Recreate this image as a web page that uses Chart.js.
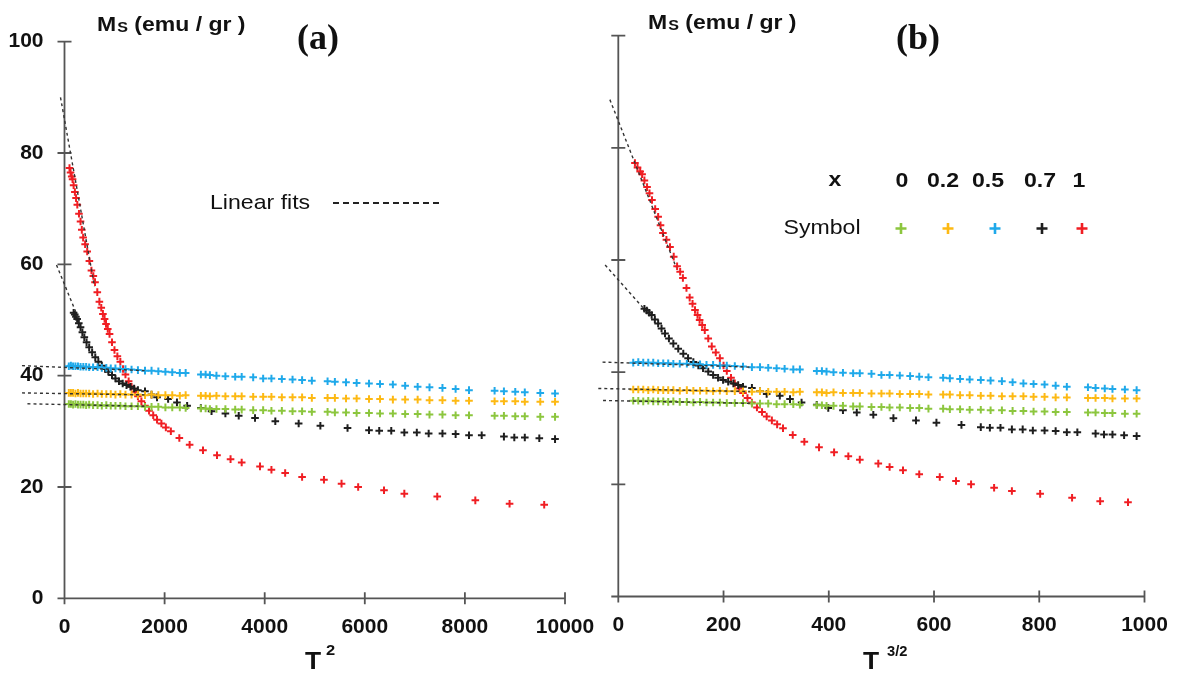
<!DOCTYPE html>
<html><head><meta charset="utf-8">
<script src="https://cdn.jsdelivr.net/npm/chart.js@4.4.0/dist/chart.umd.min.js"></script>
<style>
html,body{margin:0;padding:0;background:#fff;width:1179px;height:673px;overflow:hidden}
#ca{position:absolute;left:0;top:0}
#cb{position:absolute;left:590px;top:0}
</style></head><body>
<canvas id="ca" width="600" height="673"></canvas>
<canvas id="cb" width="589" height="673"></canvas>
<script>
// ---- data (T in K, Ms in emu/gr) ----
// common temperature grid for x = 0, 0.2, 0.5
const T_grid = [9.3, 11.3, 13.1, 14.8, 16.4, 17.9, 19.4, 20.8, 22.2, 23.9,
  25.7, 27.3, 28.9, 30.4, 31.9, 33.4, 34.9, 36.6, 38.3, 40.1,
  41.7, 43.3, 44.9, 46.4, 48.0, 49.2, 52.2, 53.1, 53.9, 55.1,
  56.7, 58.4, 59.5, 61.4, 63.0, 64.3, 65.9, 67.5, 68.9, 70.3,
  72.5, 73.5, 75.0, 76.4, 78.0, 79.4, 81.0, 82.5, 84.0, 85.4,
  86.9, 88.4, 89.9, 92.7, 93.7, 94.9, 95.9, 97.5, 99.0];
const M_x00 = [34.9, 34.9, 34.8, 34.9, 34.8, 34.8, 34.8, 34.7, 34.8, 34.7,
  34.7, 34.6, 34.7, 34.6, 34.6, 34.6, 34.5, 34.5, 34.5, 34.4,
  34.4, 34.4, 34.3, 34.3, 34.3, 34.2, 34.1, 34.1, 34.0, 34.0,
  34.0, 33.9, 33.9, 33.8, 33.8, 33.7, 33.7, 33.6, 33.6, 33.5,
  33.5, 33.4, 33.4, 33.3, 33.3, 33.2, 33.2, 33.1, 33.1, 33.0,
  33.0, 32.9, 32.9, 32.8, 32.8, 32.7, 32.7, 32.6, 32.6];
const M_x02 = [36.9, 36.9, 36.9, 36.8, 36.9, 36.8, 36.8, 36.8, 36.8, 36.7,
  36.8, 36.7, 36.7, 36.7, 36.6, 36.7, 36.6, 36.6, 36.6, 36.5,
  36.6, 36.5, 36.5, 36.5, 36.4, 36.5, 36.4, 36.4, 36.3, 36.4,
  36.3, 36.3, 36.3, 36.2, 36.2, 36.2, 36.1, 36.1, 36.1, 36.0,
  36.0, 36.0, 35.9, 35.9, 35.8, 35.8, 35.7, 35.7, 35.7, 35.6,
  35.6, 35.5, 35.5, 35.4, 35.4, 35.4, 35.3, 35.3, 35.3];
const M_x05 = [41.7, 41.8, 41.7, 41.7, 41.7, 41.6, 41.6, 41.6, 41.5, 41.5,
  41.5, 41.4, 41.4, 41.3, 41.3, 41.2, 41.2, 41.1, 41.0, 40.9,
  40.9, 40.8, 40.7, 40.6, 40.5, 40.5, 40.2, 40.2, 40.1, 40.0,
  39.9, 39.8, 39.8, 39.7, 39.5, 39.5, 39.4, 39.3, 39.2, 39.1,
  39.0, 38.9, 38.8, 38.7, 38.6, 38.5, 38.4, 38.2, 38.0, 37.9,
  37.8, 37.6, 37.4, 37.3, 37.2, 37.1, 37.0, 36.9, 36.8];
const T_x07 = [13.5, 14.3, 15.1, 15.9, 16.9, 17.9, 18.9, 19.9, 21.0, 22.2,
  23.5, 24.8, 26.0, 27.3, 28.5, 29.6, 30.8, 31.9, 33.0, 34.1,
  35.2, 36.3, 37.3, 38.3, 40.1, 41.7, 43.0, 45.5, 47.4, 49.5,
  52.2, 54.2, 56.7, 59.0, 61.7, 64.9, 68.4, 71.5, 75.2, 78.0,
  79.3, 80.8, 82.4, 83.9, 85.3, 86.9, 88.4, 89.9, 91.3, 93.7,
  94.8, 95.9, 97.4, 99.0];
const M_x07 = [51.3, 51.0, 50.6, 50.2, 49.4, 48.7, 47.8, 46.9, 46.0, 45.1,
  44.2, 43.3, 42.5, 41.8, 41.2, 40.7, 40.1, 39.5, 39.0, 38.6,
  38.3, 38.0, 37.7, 37.4, 37.2, 36.6, 36.1, 35.8, 35.2, 34.6,
  34.2, 33.6, 33.2, 32.8, 32.4, 31.8, 31.4, 31.0, 30.6, 30.2,
  30.1, 30.1, 29.8, 29.8, 29.6, 29.6, 29.5, 29.3, 29.3, 29.05,
  28.9, 28.9, 28.75, 28.6];
const T_x10 = [10, 11, 12, 12.7, 13.5, 14.4, 15.2, 16.0, 17.0, 17.9,
  18.6, 19.3, 20.3, 21.3, 22.3, 23.2, 24.0, 24.7, 25.6, 26.4,
  27.1, 27.7, 28.3, 28.8, 29.4, 30.0, 30.8, 31.6, 32.5, 33.4,
  34.2, 34.9, 35.8, 36.6, 37.5, 38.3, 39.2, 40.1, 41.1, 42.1,
  43.0, 44.0, 45.0, 46.1, 47.9, 50.0, 52.6, 55.2, 57.6, 59.5,
  62.5, 64.3, 66.4, 68.9, 72.0, 74.4, 76.6, 79.9, 82.4, 86.3,
  90.6, 94.3, 97.9];
const M_x10 = [77.3, 76.5, 75.8, 75.3, 74.2, 73.0, 71.9, 70.7, 69.1, 67.7,
  66.2, 64.8, 63.6, 62.3, 60.6, 58.9, 57.9, 56.8, 55.0, 53.3,
  52.2, 51.1, 50.2, 49.3, 48.4, 47.5, 46.0, 44.6, 43.5, 42.5,
  41.2, 40.2, 39.0, 38.0, 37.1, 36.3, 35.4, 34.6, 33.7, 32.9,
  32.1, 31.4, 30.7, 30.0, 28.8, 27.6, 26.6, 25.7, 25.0, 24.4,
  23.7, 23.1, 22.5, 21.8, 21.3, 20.6, 20.0, 19.4, 18.8, 18.3,
  17.6, 17.0, 16.8];

// linear fits: end points [x1, x2] and [M1, M2]
// panel (a): x = T^2
const fitA_x00 = [[-740, 1600], [34.95, 34.5]];
const fitA_x02 = [[-850, 1600], [36.9, 36.55]];
const fitA_x05 = [[-850, 1600], [41.8, 40.9]];
const fitA_x07 = [[-160, 300], [59.9, 49.8]];
const fitA_x10 = [[-80, 600], [90.0, 56.0]];
// panel (b): x = T^(3/2)
const fitB_x00 = [[-29, 250], [34.95, 34.45]];
const fitB_x02 = [[-38, 250], [37.1, 36.55]];
const fitB_x05 = [[-30, 250], [41.8, 40.9]];
const fitB_x07 = [[-25, 48], [59.1, 51.4]];
const fitB_x10 = [[-16, 110], [88.6, 58.7]];

const xTicksA = [0, 2000, 4000, 6000, 8000, 10000];
const xTicksB = [0, 200, 400, 600, 800, 1000];
const yTicks = [0, 20, 40, 60, 80, 100];
const legendX = ['0', '0.2', '0.5', '0.7', '1'];

const colors = ['#8cc63e', '#fdb913', '#1fa9ea', '#1e1e1e', '#f01e23'];

// ---- helpers ----
const FONT = '"Liberation Sans", Arial, sans-serif';
Chart.defaults.font.family = FONT;

function pts(T, M, p) { return T.map((t, i) => ({x: Math.pow(t, p), y: M[i]})); }
function fitPts(f) { return f[0].map((x, i) => ({x: x, y: f[1][i]})); }

function txt(ctx, s, x, y, font, align, sx) {
  ctx.save();
  ctx.font = font; ctx.fillStyle = '#111'; ctx.textBaseline = 'alphabetic'; ctx.textAlign = 'left';
  const w = ctx.measureText(s).width * sx;
  const left = align === 'center' ? x - w / 2 : (align === 'right' ? x - w : x);
  ctx.translate(left, y); ctx.scale(sx, 1); ctx.fillText(s, 0, 0);
  ctx.restore();
  return left + w;
}
function cross(ctx, x, y, r, lw, c) {
  ctx.save(); ctx.strokeStyle = c; ctx.lineWidth = lw;
  ctx.beginPath(); ctx.moveTo(x - r, y); ctx.lineTo(x + r, y); ctx.moveTo(x, y - r); ctx.lineTo(x, y + r); ctx.stroke();
  ctx.restore();
}

const axesPlugin = {
  id: 'axesDraw',
  beforeDatasetsDraw(chart) {
    const {ctx} = chart; const x = chart.scales.x, y = chart.scales.y;
    const xt = chart.options.plugins.axesDraw.xTicks;
    const x0 = x.getPixelForValue(0), y0 = y.getPixelForValue(0);
    const yTop = y.getPixelForValue(100), xEnd = x.getPixelForValue(xt[xt.length - 1]);
    ctx.save(); ctx.strokeStyle = '#555'; ctx.lineWidth = 1.8;
    ctx.beginPath();
    ctx.moveTo(x0, yTop); ctx.lineTo(x0, y0);
    ctx.moveTo(x0 - 7, y0); ctx.lineTo(xEnd, y0);
    yTicks.forEach(v => { const p = y.getPixelForValue(v); ctx.moveTo(x0 - 7, p); ctx.lineTo(x0 + 7, p); });
    xt.forEach(v => { const p = x.getPixelForValue(v); ctx.moveTo(p, y0 - 6); ctx.lineTo(p, y0 + 6); });
    ctx.stroke(); ctx.restore();
  }
};

function buildDatasets(p, fits) {
  const fitSets = fits.map(f => ({
    data: fitPts(f), showLine: true, borderColor: '#333', borderWidth: 1.4,
    borderDash: [3, 3], pointRadius: 0, clip: false, fill: false
  }));
  const series = [[T_grid, M_x00], [T_grid, M_x02], [T_grid, M_x05], [T_x07, M_x07], [T_x10, M_x10]];
  const ptSets = series.map((s, i) => ({
    label: 'x = ' + legendX[i], data: pts(s[0], s[1], p), showLine: false,
    pointStyle: 'cross', pointRadius: 3.8, pointBorderWidth: 2,
    borderColor: colors[i], backgroundColor: colors[i], pointBorderColor: colors[i]
  }));
  return fitSets.concat(ptSets);
}

function makeOptions(xMax, xTicks, pad, yShow, xH, yW) {
  return {
    responsive: false, animation: false,
    layout: {padding: pad},
    plugins: {legend: {display: false}, tooltip: {enabled: false}, title: {display: false},
      axesDraw: {xTicks: xTicks}},
    scales: {
      x: {type: 'linear', min: 0, max: xMax,
        afterBuildTicks: s => { s.ticks = xTicks.map(v => ({value: v})); },
        afterFit: s => { s.height = xH; s.paddingLeft = 0; s.paddingRight = 0; },
        grid: {display: false, drawTicks: false}, border: {display: false},
        ticks: {padding: 16.6, color: '#111', font: {size: 21, weight: 'bold'}, maxRotation: 0,
          autoSkip: false, callback: v => String(v)}},
      y: {type: 'linear', min: 0, max: 100, display: yShow,
        afterBuildTicks: s => { s.ticks = yTicks.map(v => ({value: v})); },
        afterFit: s => { if (yW) s.width = yW; s.paddingTop = 0; s.paddingBottom = 0; },
        grid: {display: false, drawTicks: false}, border: {display: false},
        ticks: {padding: 21, color: '#111', font: {size: 21, weight: 'bold'}, callback: v => String(v)}}
    }
  };
}

// ---- panel (a) ----
const textA = {
  id: 'textA',
  afterDraw(chart) {
    const ctx = chart.ctx;
    let e = txt(ctx, 'M', 97, 31, 'bold 20px ' + FONT, 'left', 1.15);
    e = txt(ctx, 'S', e + 1, 32, 'bold 14px ' + FONT, 'left', 1.15);
    txt(ctx, ' (emu / gr )', e, 31, 'bold 20px ' + FONT, 'left', 1.15);
    txt(ctx, '(a)', 318, 49, 'bold 36px "Liberation Serif", "Times New Roman", serif', 'center', 1);
    txt(ctx, 'Linear fits', 210, 209, '21px ' + FONT, 'left', 1.1);
    ctx.save(); ctx.strokeStyle = '#222'; ctx.lineWidth = 2; ctx.setLineDash([6, 4]);
    ctx.beginPath(); ctx.moveTo(333, 203); ctx.lineTo(442, 203); ctx.stroke(); ctx.restore();
    const t = txt(ctx, 'T', 313, 669, 'bold 24px ' + FONT, 'center', 1.1);
    txt(ctx, '2', t + 5, 655, 'bold 15px ' + FONT, 'left', 1.1);
  }
};
new Chart(document.getElementById('ca'), {
  type: 'line',
  data: {datasets: buildDatasets(2, [fitA_x10, fitA_x07, fitA_x05, fitA_x02, fitA_x00])},
  options: makeOptions(10000, xTicksA, {left: 0, top: 41.7, right: 35, bottom: 0}, true, 74.7, 64.5),
  plugins: [axesPlugin, textA]
});

// ---- panel (b) ----
const textB = {
  id: 'textB',
  afterDraw(chart) {
    const ctx = chart.ctx;
    let e = txt(ctx, 'M', 58, 29, 'bold 20px ' + FONT, 'left', 1.15);
    e = txt(ctx, 'S', e + 1, 30, 'bold 14px ' + FONT, 'left', 1.15);
    txt(ctx, ' (emu / gr )', e, 29, 'bold 20px ' + FONT, 'left', 1.15);
    txt(ctx, '(b)', 328, 49, 'bold 36px "Liberation Serif", "Times New Roman", serif', 'center', 1);
    const t = txt(ctx, 'T', 281, 669, 'bold 24px ' + FONT, 'center', 1.1);
    txt(ctx, '3/2', t + 8, 656, 'bold 14px ' + FONT, 'left', 1.05);
    // legend table
    txt(ctx, 'x', 245, 186, 'bold 21px ' + FONT, 'center', 1.1);
    txt(ctx, 'Symbol', 232, 234, '21px ' + FONT, 'center', 1.1);
    const lx = [312, 353, 398, 450, 489];
    const cx = [311, 358, 405, 452, 492];
    legendX.forEach((s, i) => {
      txt(ctx, s, lx[i], 187, 'bold 21px ' + FONT, 'center', 1.1);
      cross(ctx, cx[i], 228.5, 5.5, 2.6, colors[i]);
    });
  }
};
new Chart(document.getElementById('cb'), {
  type: 'line',
  data: {datasets: buildDatasets(1.5, [fitB_x10, fitB_x07, fitB_x05, fitB_x02, fitB_x00])},
  options: makeOptions(1000, xTicksB, {left: 28.3, top: 35.7, right: 34.5, bottom: 0}, false, 76.5, 0),
  plugins: [axesPlugin, textB]
});
</script>
</body></html>
